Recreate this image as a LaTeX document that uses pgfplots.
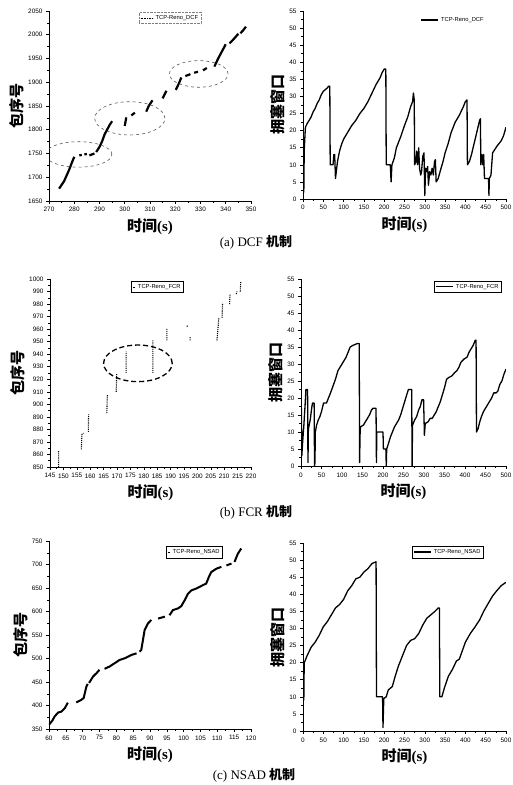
\documentclass[border=0pt]{standalone}
\usepackage{fontspec}
\setmainfont{Liberation Serif}
\setsansfont{Liberation Sans}
\newfontfamily\cjk{Noto Sans CJK SC}
\usepackage{pgfplots}
\pgfplotsset{compat=1.18}

\pgfplotsset{
  panel/.style={
    scale only axis, axis lines=left, axis line style={-, line width=0.7pt},
    tick align=outside, major tick length=3pt, minor tick length=1.6pt,
    minor tick num=1, every tick/.style={black, line width=0.5pt},
    tick label style={font=\sffamily\fontsize{6.4}{6.4}\selectfont},
    /pgf/number format/assume math mode=true,
    /pgf/number format/1000 sep={},
    xlabel={{\cjk\bfseries 时间}\textbf{(s)}},
    xlabel style={font=\fontsize{15}{15}\selectfont},
    ylabel style={font=\fontsize{15}{15}\selectfont\cjk\bfseries},
    ylabel shift=-3pt,
    legend style={font=\sffamily\fontsize{5.8}{6.2}\selectfont, inner sep=1pt,
      line width=0.4pt, anchor=north},
    legend cell align=left,
  },
  curve/.style={black, line width=1.3pt, line join=round},
  dots/.style={black, line width=2.2pt, unbounded coords=jump},
}

\begin{document}
\begin{tikzpicture}
\path[use as bounding box] (0,0) rectangle (512pt,785pt);

% ---------------- (a) DCF ----------------
\begin{axis}[panel, at={(49pt,584pt)}, anchor=south west, width=202pt, height=190pt,
    xmin=270, xmax=350, ymin=1650, ymax=2050,
    xtick={270,280,...,350}, ytick={1650,1700,...,2050},
    ylabel={包序号},
    legend style={at={(0.6,0.995)}, draw=gray, densely dotted},
    legend image code/.code={\draw[black, densely dotted, line width=0.6pt] (0cm,0cm) -- (0.45cm,0cm);}]
\addplot[dots] coordinates {
 (274,1676)(275,1684)(276,1692)(277,1704)(278,1716)(279,1730)(280,1743) (0,nan)
 (282,1746)(283,1747) (0,nan) (284,1748)(285,1749) (0,nan) (286,1746)(288,1750) (0,nan)
 (288.7,1753)(290,1764)(291,1775)(292,1790)(293,1800)(294,1810)(295,1818) (0,nan)
 (300,1808)(300.6,1826) (0,nan) (302.6,1830)(304,1836) (0,nan)
 (308.5,1838)(309.5,1850)(311,1862) (0,nan) (315,1866)(316.5,1882) (0,nan)
 (320.2,1884)(321.5,1898)(322.4,1910) (0,nan)
 (324,1913)(326,1917) (0,nan) (327.5,1920)(329,1922) (0,nan) (331,1925)(332.5,1930) (0,nan)
 (335.5,1933)(337,1950)(338.5,1965)(340,1980) (0,nan)
 (341.5,1982)(343,1990)(345,2002) (0,nan) (345.8,2003)(347,2010)(348,2017)
};
\addlegendentry{TCP-Reno\_DCF}
\draw[dashed, gray!70!black, line width=0.6pt] (axis cs:281.7,1748) ellipse [x radius=13.2, y radius=26.8];
\draw[dashed, gray!70!black, line width=0.6pt] (axis cs:302,1824) ellipse [x radius=13.9, y radius=35];
\draw[dashed, gray!70!black, line width=0.6pt] (axis cs:329.3,1917.5) ellipse [x radius=11.6, y radius=28];
\end{axis}

\begin{axis}[panel, at={(303pt,586pt)}, anchor=south west, width=203pt, height=188pt,
    xmin=0, xmax=500, ymin=0, ymax=55,
    xtick={0,50,...,500}, ytick={0,5,...,55},
    ylabel={拥塞窗口},
    legend style={at={(0.74,0.984)}, draw=none}]
\addplot[curve] coordinates {
 (0,0)(1,15)(2,2)(3,14)(5,19)(6,21)(10,22)(15,23)(20,24)(25,25.5)(30,26.5)(35,28)(40,29)
 (45,30.5)(50,31.5)(55,32)(60,32.5)(63,33)(66,33)(67,10)(70,10)(74,10)(76,13)(78,13)(80,6)
 (82,8)(85,11)(90,14)(95,16)(100,17.5)(110,19.5)(120,21.5)(130,23)(140,25)(150,26.5)
 (160,28.5)(170,31)(180,33.5)(190,35.5)(195,37)(200,38)(204,38)(205,10)(210,10)(215,10)
 (217,5)(219,10)(225,12)(230,15)(240,18)(250,21.5)(258,24)(265,27)(270,28.5)(272,31)
 (274,29)(275,10)(278,11)(280,14)(282,10)(285,15)(287,9)(290,7)(292,8)(295,12.5)(298,13.5)
 (300,1)(302,9)(305,8)(307,9.5)(309,4)(312,8)(315,7)(318,9)(321,7)(324,11)(326,11.5)
 (328,5)(333,6)(340,9)(345,11)(350,13.5)(357,16)(365,19.5)(375,22.5)(385,24.5)(395,27)
 (400,28.5)(404,29)(405,10)(410,11)(415,13)(420,15.5)(425,18)(430,20.5)(435,23)(437,23.5)
 (438,10)(441,13)(443,10)(445,13)(447,6)(452,6)(457,6)(458,1)(459,6)(463,7)(467,13.5)
 (478,15.5)(488,17)(494,18.5)(500,21)
};
\addlegendentry{TCP-Reno\_DCF}
\end{axis}

% ---------------- (b) FCR ----------------
\begin{axis}[panel, at={(50pt,318pt)}, anchor=south west, width=201pt, height=188pt,
    xmin=145, xmax=220, ymin=850, ymax=1000,
    xtick={145,150,...,220}, ytick={850,860,...,1000},
    ylabel={包序号},
    legend style={at={(0.535,0.99)}},
    legend image code/.code={\draw[black, densely dotted, line width=0.6pt] (0.2cm,0cm) -- (0.3cm,0cm);}]
\addplot[black, densely dotted, line width=1.1pt, unbounded coords=jump] coordinates {
 (148.2,850)(148.2,863) (0,nan) (156.7,864)(156.9,876)(157.5,877) (0,nan)
 (159.3,878)(159.4,892) (0,nan) (166.2,893)(166.4,908) (0,nan)
 (169.7,910)(169.9,924) (0,nan) (173.4,925)(173.4,942) (0,nan)
 (183.4,925)(183.4,951) (0,nan) (188.6,951)(188.6,961) (0,nan)
 (196.1,962)(196.3,963) (0,nan) (197.3,951)(197.3,954) (0,nan)
 (207.3,951)(208,969) (0,nan) (209.2,969)(209.4,981) (0,nan)
 (212,980)(212.2,988) (0,nan) (214.5,988)(214.8,990) (0,nan) (216,990)(216.2,998)
};
\addlegendentry{TCP-Reno\_FCR}
\draw[black, line width=1.3pt, dash pattern=on 5pt off 3pt] (axis cs:177.8,932.7) ellipse [x radius=12.8, y radius=14.6];
\end{axis}

\begin{axis}[panel, at={(301pt,319pt)}, anchor=south west, width=205pt, height=187pt,
    xmin=0, xmax=500, ymin=0, ymax=55,
    xtick={0,50,...,500}, ytick={0,5,...,55},
    ylabel={拥塞窗口},
    legend style={at={(0.815,0.99)}}]
\addplot[curve] coordinates {
 (0,0)(1,17)(2,3)(4,7)(7,12)(10,18)(12,22.5)(16,22.5)(17,1)(18,11)(20,12)(23,14)(26,17)
 (28,18.5)(32,18.5)(33,0)(34,1)(35,10)(38,12)(42,13.5)(46,14.5)(50,16)(55,18.5)(62,18.5)
 (67,20)(72,21.5)(78,23.5)(84,25.5)(90,28)(95,29)(100,30)(105,31)(110,32)(115,33.5)
 (120,35)(127,35.5)(137,36)(142,36)(143,1)(144,9)(145,11.5)(152,12)(157,13)(162,14)
 (167,15)(172,16.5)(176,17)(183,17)(184,1)(185,10)(193,10)(200,10)(201,5)(207,5)(208,0)
 (209,5)(213,6.5)(218,8.5)(223,10)(228,11.5)(233,12.5)(238,13.5)(243,15)(248,17)(253,19)
 (258,21)(262,22.5)(270,22.5)(271,0)(272,12)(277,13.5)(282,14.5)(287,16.5)(291,17.5)
 (295,19.5)(299,19.5)(301,9)(303,12.5)(310,13)(315,14)(320,14)(325,15)(330,16)(335,17.5)
 (340,19)(345,21)(350,23)(355,25.5)(360,26)(368,26.5)(375,27.5)(380,28)(385,29)(390,30.5)
 (398,31.5)(405,32)(410,33.5)(415,34.5)(420,35.5)(425,37)(427,37)(428,10)(432,11)(436,13)
 (440,14.5)(445,16)(450,17)(455,18)(460,19)(465,20)(470,21.5)(476,21.5)(480,22)(485,24)
 (490,25)(495,27)(500,28.5)
};
\addlegendentry{TCP-Reno\_FCR}
\end{axis}

% ---------------- (c) NSAD ----------------
\begin{axis}[panel, at={(49pt,56pt)}, anchor=south west, width=202pt, height=188pt,
    xmin=60, xmax=120, ymin=350, ymax=750,
    xtick={60,65,...,120}, ytick={350,400,...,750},
    ylabel={包序号},
    legend style={at={(0.72,0.973)}},
    legend image code/.code={\draw[black, line width=0.8pt] (0.1cm,0cm) -- (0.2cm,0cm);}]
\addplot[dots, line width=2pt] coordinates {
 (60,359)(61,368)(61.7,377)(62.7,385)(63.7,387)(64.7,394.5)(65.6,406) (0,nan)
 (68.1,406.5)(69.6,412)(70.3,416)(71.1,440)(71.5,446) (0,nan)
 (71.9,448)(73.1,461.7)(74.1,468.7)(75,476) (0,nan)
 (76.5,478)(78,483)(79.5,490)(81,497)(82.5,500.5)(84.5,507.6)(86,511) (0,nan)
 (86.9,514.7)(87.4,518)(87.9,539)(88.4,560.6)(89.4,574.7)(90.4,582) (0,nan)
 (92.4,585)(94.4,589) (0,nan)
 (95.8,592)(96.8,603)(98.3,606.5)(99.3,611.5)(100.3,624)(101.3,638)(102.3,645)(103.8,649)
 (105.7,656)(106.7,659.5)(107.5,673.7)(108.2,684)(109.7,691)(111.2,695) (0,nan)
 (112.7,698)(114.2,702) (0,nan) (115.1,705.5)(116.1,723)(117.1,734)
};
\addlegendentry{TCP-Reno\_NSAD}
\end{axis}

\begin{axis}[panel, at={(303pt,54pt)}, anchor=south west, width=203pt, height=188pt,
    xmin=0, xmax=500, ymin=0, ymax=55,
    xtick={0,50,...,500}, ytick={0,5,...,55},
    ylabel={拥塞窗口},
    legend style={at={(0.714,0.984)}}]
\addplot[curve] coordinates {
 (0,0)(1,20)(2,9)(3,20)(5,20.5)(10,22)(20,24.5)(30,26)(40,28)(50,30.5)(60,32)(70,34)
 (80,36)(90,37)(100,38.5)(110,41)(120,42.5)(130,44.5)(140,45)(150,46.5)(160,47.5)(170,49)
 (180,49.5)(181,10)(190,10)(196,10)(197,1)(199,9.5)(205,10)(210,12)(220,13)(227,16)
 (235,19)(245,22)(255,25)(265,26.5)(275,27)(285,28.5)(295,31)(305,33)(315,34)(325,35)
 (333,36)(336,36)(337,10)(342,10)(348,12.5)(358,16)(368,18)(378,20.5)(385,21)(391,23)
 (400,26)(412,28.5)(424,30.5)(435,32.5)(445,35)(457,37.5)(467,39.5)(477,41)(488,42.5)
 (500,43.5)
};
\addlegendentry{TCP-Reno\_NSAD}
\end{axis}

% captions
\node[font=\fontsize{13}{13}\selectfont] at (256pt,543pt) {(a) DCF {\cjk\bfseries 机制}};
\node[font=\fontsize{13}{13}\selectfont] at (256pt,273pt) {(b) FCR {\cjk\bfseries 机制}};
\node[font=\fontsize{13}{13}\selectfont] at (254pt,10pt) {(c) NSAD {\cjk\bfseries 机制}};
\end{tikzpicture}
\end{document}
